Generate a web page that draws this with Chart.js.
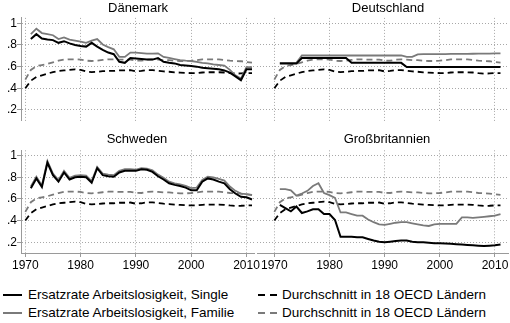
<!DOCTYPE html>
<html><head><meta charset="utf-8">
<script src="https://cdn.jsdelivr.net/npm/chart.js@4/dist/chart.umd.min.js"></script>
<style>
body{margin:0;width:510px;height:323px;background:#fff;position:relative;overflow:hidden;font-family:"Liberation Sans",Arial,sans-serif;}
canvas{position:absolute;}
.t{position:absolute;font-size:13px;line-height:15px;text-align:center;width:200px;color:#000;white-space:nowrap;}
.lg{position:absolute;font-size:13.5px;line-height:15px;color:#000;white-space:nowrap;}
.ln{position:absolute;height:2px;}
</style></head>
<body>
<canvas id="c1" width="265" height="125" style="left:0;top:0"></canvas>
<canvas id="c2" width="255" height="125" style="left:255px;top:0"></canvas>
<canvas id="c3" width="265" height="150" style="left:0;top:125px"></canvas>
<canvas id="c4" width="255" height="150" style="left:255px;top:125px"></canvas>

<div class="t" style="left:38px;top:0px">Dänemark</div>
<div class="t" style="left:288px;top:0px">Deutschland</div>
<div class="t" style="left:37px;top:130.5px">Schweden</div>
<div class="t" style="left:287px;top:130.5px">Großbritannien</div>

<div class="ln" style="left:3px;top:294px;width:19px;background:#000"></div>
<div class="lg" style="left:28px;top:287px">Ersatzrate Arbeitslosigkeit, Single</div>
<div class="ln" style="left:3px;top:312.3px;width:19px;background:#7a7a7a"></div>
<div class="lg" style="left:28px;top:305.4px">Ersatzrate Arbeitslosigkeit, Familie</div>
<div class="ln" style="left:258px;top:294px;width:7px;background:#000"></div>
<div class="ln" style="left:270px;top:294px;width:7px;background:#000"></div>
<div class="lg" style="left:282px;top:287px">Durchschnitt in 18 OECD Ländern</div>
<div class="ln" style="left:258px;top:312.3px;width:7px;background:#7a7a7a"></div>
<div class="ln" style="left:270px;top:312.3px;width:7px;background:#7a7a7a"></div>
<div class="lg" style="left:282px;top:305.4px">Durchschnitt in 18 OECD Ländern</div>

<script>
const years = [1970,1971,1972,1973,1974,1975,1976,1977,1978,1979,1980,1981,1982,1983,1984,1985,1986,1987,1988,1989,1990,1991,1992,1993,1994,1995,1996,1997,1998,1999,2000,2001,2002,2003,2004,2005,2006,2007,2008,2009,2010,2011];
const xTicks = [1970,1980,1990,2000,2010];
const yTicks = [0.2,0.4,0.6,0.8,1];
const panelTitles = ["Dänemark","Deutschland","Schweden","Großbritannien"];

const oecdSingle = [0.40,0.47,0.505,0.52,0.535,0.55,0.56,0.565,0.57,0.575,0.57,0.555,0.55,0.553,0.558,0.56,0.56,0.565,0.565,0.567,0.556,0.56,0.568,0.568,0.562,0.556,0.553,0.548,0.545,0.543,0.54,0.541,0.546,0.548,0.548,0.548,0.546,0.54,0.536,0.537,0.54,0.54];
const oecdFamily = [0.48,0.57,0.605,0.615,0.625,0.64,0.655,0.665,0.668,0.668,0.665,0.655,0.652,0.655,0.662,0.667,0.667,0.665,0.665,0.665,0.656,0.655,0.665,0.668,0.665,0.66,0.66,0.655,0.652,0.652,0.655,0.66,0.667,0.668,0.668,0.667,0.662,0.655,0.652,0.65,0.643,0.637];

const dkSingle = [null,0.855,0.90,0.86,0.85,0.845,0.82,0.835,0.815,0.80,0.79,0.785,0.82,0.785,0.755,0.73,0.715,0.645,0.635,0.68,0.675,0.67,0.665,0.665,0.68,0.645,0.635,0.63,0.615,0.61,0.605,0.60,0.59,0.585,0.58,0.575,0.565,0.545,0.51,0.475,0.575,0.575];
const dkFamily = [null,0.90,0.95,0.91,0.90,0.89,0.855,0.87,0.85,0.84,0.83,0.82,0.84,0.855,0.805,0.78,0.76,0.69,0.69,0.73,0.73,0.725,0.72,0.72,0.723,0.69,0.68,0.67,0.66,0.655,0.652,0.645,0.635,0.63,0.62,0.615,0.61,0.57,0.52,0.49,0.595,0.595];

const deSingle = [null,0.628,0.628,0.628,0.628,0.68,0.68,0.68,0.68,0.68,0.68,0.68,0.68,0.68,0.635,0.635,0.635,0.635,0.635,0.635,0.635,0.635,0.635,0.635,0.597,0.597,0.597,0.597,0.597,0.597,0.597,0.597,0.597,0.597,0.597,0.597,0.597,0.597,0.597,0.597,0.597,0.597];
const deFamily = [null,0.635,0.635,0.635,0.635,0.703,0.703,0.703,0.703,0.703,0.703,0.703,0.703,0.703,0.703,0.703,0.703,0.703,0.703,0.703,0.703,0.703,0.703,0.703,0.69,0.69,0.713,0.715,0.715,0.715,0.716,0.716,0.717,0.717,0.718,0.718,0.719,0.72,0.72,0.721,0.722,0.722];

const seSingle = [null,0.70,0.79,0.71,0.935,0.82,0.76,0.845,0.78,0.80,0.805,0.80,0.75,0.885,0.82,0.81,0.805,0.845,0.86,0.86,0.86,0.875,0.87,0.85,0.81,0.78,0.745,0.73,0.72,0.705,0.68,0.68,0.76,0.79,0.78,0.76,0.745,0.69,0.65,0.62,0.615,0.595];
const seFamily = [null,0.715,0.805,0.725,0.95,0.835,0.775,0.86,0.795,0.815,0.82,0.815,0.765,0.895,0.835,0.825,0.82,0.86,0.875,0.875,0.872,0.885,0.88,0.865,0.825,0.795,0.76,0.745,0.735,0.72,0.70,0.705,0.775,0.805,0.80,0.785,0.77,0.715,0.675,0.65,0.645,0.635];

const ukSingle = [null,0.545,0.515,0.485,0.53,0.47,0.485,0.505,0.505,0.46,0.46,0.405,0.25,0.25,0.25,0.245,0.245,0.23,0.215,0.205,0.20,0.205,0.21,0.215,0.215,0.205,0.20,0.20,0.195,0.19,0.19,0.187,0.185,0.182,0.178,0.175,0.172,0.168,0.165,0.168,0.172,0.178];
const ukFamily = [null,0.69,0.69,0.68,0.63,0.65,0.675,0.72,0.745,0.655,0.635,0.61,0.475,0.475,0.46,0.445,0.445,0.41,0.385,0.365,0.36,0.37,0.38,0.385,0.385,0.375,0.365,0.355,0.35,0.365,0.37,0.37,0.37,0.37,0.43,0.43,0.425,0.43,0.435,0.44,0.445,0.46];

const FONT = '"Liberation Sans", Arial, sans-serif';
const GRAY = '#7a7a7a';
const AXIS = '#9a9a9a';
const GRID = '#a8a8a8';

function pts(arr){ return years.map((yr,i)=>({x:yr,y:arr[i]})); }

function makePanel(id, single, family, o){
  const ctx = document.getElementById(id);
  new Chart(ctx, {
    type:'line',
    data:{datasets:[
      {data:pts(single), borderColor:'#000', borderWidth:2, pointRadius:0, order:0, tension:0},
      {data:pts(family), borderColor:GRAY, borderWidth:1.8, pointRadius:0, order:1, tension:0},
      {data:pts(oecdSingle), borderColor:'#000', borderWidth:1.8, borderDash:[6,4], pointRadius:0, order:2, tension:0},
      {data:pts(oecdFamily), borderColor:GRAY, borderWidth:1.8, borderDash:[6,4], pointRadius:0, order:3, tension:0}
    ]},
    options:{
      responsive:false, animation:false, devicePixelRatio:1,
      layout:{padding:o.padding},
      plugins:{legend:{display:false}, tooltip:{enabled:false}, title:{display:false}},
      scales:{
        x:{type:'linear', min:o.xMin, max:o.xMax,
           afterBuildTicks:s=>{s.ticks = xTicks.map(v=>({value:v}));},
           afterFit:s=>{s.height = o.showX ? 22 : 0; s.paddingLeft=0; s.paddingRight=0;},
           grid:{color:GRID, lineWidth:1, drawTicks:o.showX, tickLength:4, tickColor:AXIS, tickWidth:1, tickBorderDash:[]},
           border:{display:o.showX, color:AXIS, width:1, dash:[1,2]},
           ticks:{display:o.showX, padding:1, color:'#000', maxRotation:0, autoSkip:false,
                  font:{family:FONT, size:12}, callback:v=>String(v)}
        },
        y:{type:'linear', min:0.1, max:1.05,
           afterBuildTicks:s=>{s.ticks = yTicks.map(v=>({value:v}));},
           afterFit:s=>{s.width = o.showY ? 21 : 0; s.paddingTop=0; s.paddingBottom=0;},
           grid:{color:GRID, lineWidth:1, drawTicks:o.showY, tickLength:4, tickColor:AXIS, tickWidth:1, tickBorderDash:[]},
           border:{display:o.showY, color:AXIS, width:1, dash:[1,2]},
           ticks:{display:o.showY, padding:0, color:'#000', autoSkip:false,
                  font:{family:FONT, size:12},
                  callback:v=> v===1 ? '1' : '.'+Math.round(v*10)}
        }
      }
    }
  });
}

makePanel('c1', dkSingle, dkFamily, {xMin:1969.22, xMax:2011.36, showX:false, showY:true, padding:{left:0,right:11,top:17.9,bottom:4.2}});
makePanel('c2', deSingle, deFamily, {xMin:1966.86, xMax:2012.36, showX:false, showY:false, padding:{left:2,right:2,top:17.9,bottom:4.2}});
makePanel('c3', seSingle, seFamily, {xMin:1969.22, xMax:2011.36, showX:true, showY:true, padding:{left:0,right:11,top:25.3,bottom:0}});
makePanel('c4', ukSingle, ukFamily, {xMin:1966.86, xMax:2012.36, showX:true, showY:false, padding:{left:2,right:2,top:25.3,bottom:0}});
</script>
</body></html>
